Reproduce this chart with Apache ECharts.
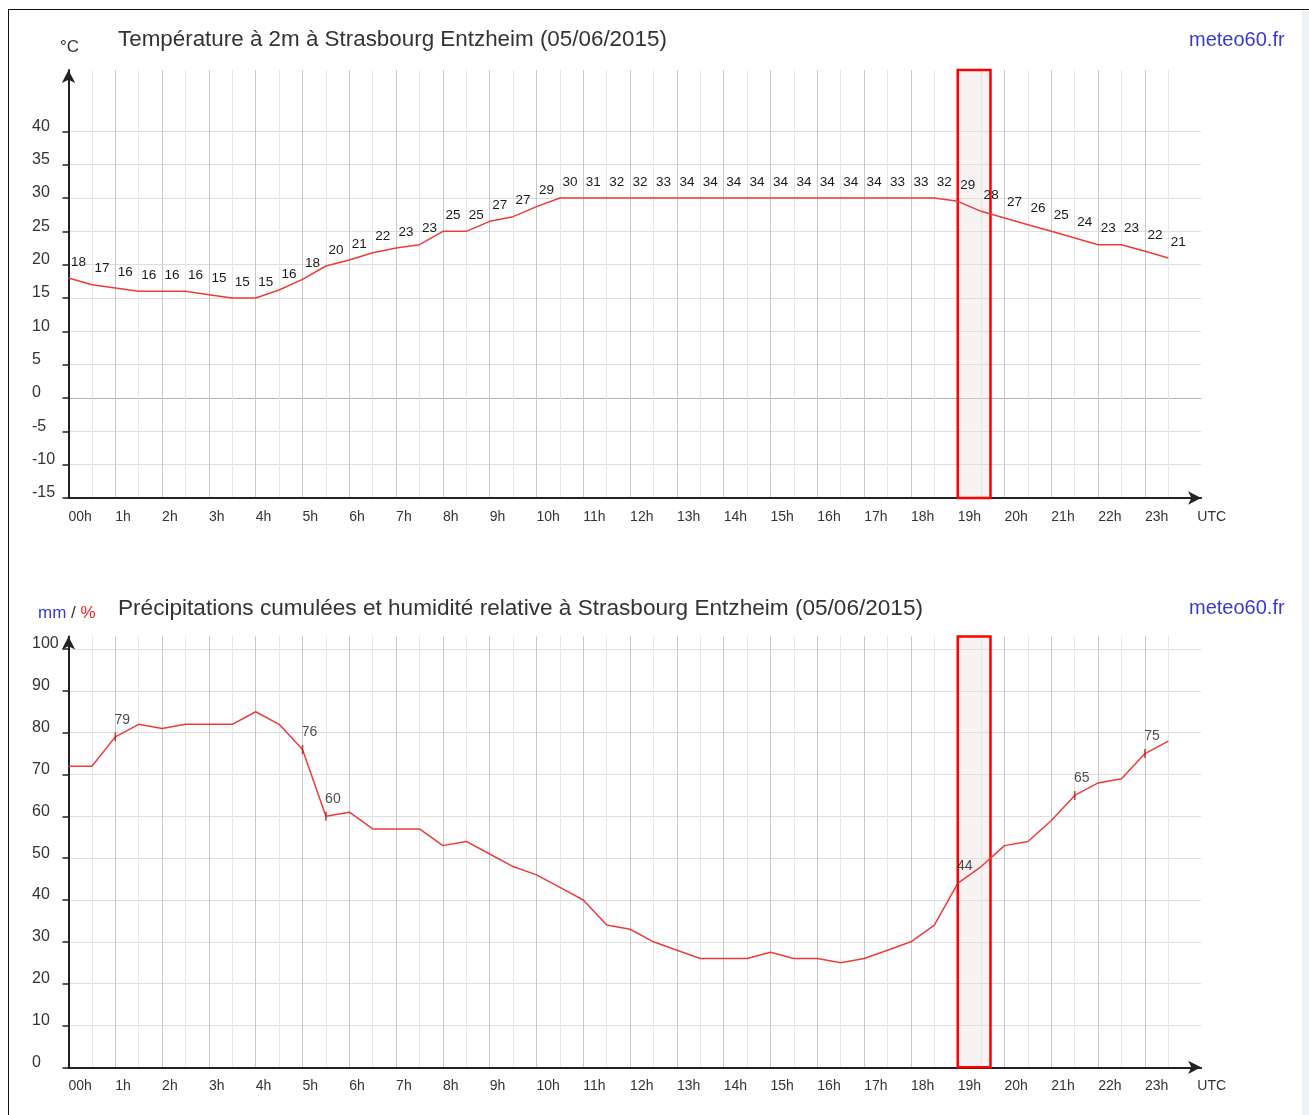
<!DOCTYPE html>
<html>
<head>
<meta charset="utf-8">
<script src="https://cdn.jsdelivr.net/npm/echarts@6/dist/echarts.min.js"></script>
<style>
html,body{margin:0;padding:0;background:#fff;}
#wrap{position:relative;width:1309px;height:1115px;overflow:hidden;}
#chart{position:absolute;left:0;top:0;width:1309px;height:1115px;}
#frameTop{position:absolute;left:8px;top:9px;width:1301px;height:0;border-top:1.5px solid #111;}
#frameLeft{position:absolute;left:7.5px;top:9px;width:0;height:1106px;border-left:1.5px solid #111;}
#band{position:absolute;left:1302px;top:11px;width:7px;height:1104px;background:#edf2f9;}
</style>
</head>
<body>
<div id="wrap">
  <div id="chart"></div>
  <div id="band"></div>
  <div id="frameTop"></div>
  <div id="frameLeft"></div>
</div>
<script>
// ---- data ----
const hours = [0,0.5,1,1.5,2,2.5,3,3.5,4,4.5,5,5.5,6,6.5,7,7.5,8,8.5,9,9.5,10,10.5,11,11.5,
               12,12.5,13,13.5,14,14.5,15,15.5,16,16.5,17,17.5,18,18.5,19,19.5,20,20.5,21,21.5,22,22.5,23,23.5];
// temperature curve as drawn (the drawn curve is capped at 30)
const tempLine = [18,17,16.5,16,16,16,15.5,15,15,16.2,17.8,19.8,20.7,21.8,22.5,23,25,25,26.5,27.2,28.7,
                  30,30,30,30,30,30,30,30,30,30,30,30,30,30,30,30,30,
                  29.5,28,27,26,25,24,23,23,22,21];
// temperature values printed above the curve
const tempLabels = [18,17,16,16,16,16,15,15,15,16,18,20,21,22,23,23,25,25,27,27,29,
                    30,31,32,32,33,34,34,34,34,34,34,34,34,34,33,33,32,
                    29,28,27,26,25,24,23,23,22,21];
// relative humidity (%)
const humidity = [72,72,79,82,81,82,82,82,85,82,76,60,61,57,57,57,53,54,51,48,
                  46,43,40,34,33,30,28,26,26,26,27.5,26,26,25,26,28,30,34,44,48,
                  53,54,59,65,68,69,75,78];
const humLabelIdx = [2,10,11,38,43,46];
const hourTicks = [0,1,2,3,4,5,6,7,8,9,10,11,12,13,14,15,16,17,18,19,20,21,22,23];
const tempTicks = [-15,-10,-5,0,5,10,15,20,25,30,35,40];
const humTicks = [0,10,20,30,40,50,60,70,80,90,100];
const highlight = [19, 19.7];

// ---- chart ----
const FONT = "'Liberation Sans', Arial, Helvetica, sans-serif";
const halfTicks = hours.filter(h => h > 0);
const X_MAX = 24.2;
const UTC_POS = 24.12;

function makeX(gi) {
  return {
    type: 'value', gridIndex: gi, min: 0, max: X_MAX,
    axisLine: { show: true, onZero: false, lineStyle: { color: '#222', width: 2 },
                symbol: ['none', 'arrow'], symbolSize: [10, 13] },
    axisTick: { show: false, customValues: halfTicks },
    splitLine: { show: true, lineStyle: { color: ['#e6e6e6', '#c8c8c8'], width: 1 } },
    axisLabel: {
      customValues: hourTicks.concat([UTC_POS]),
      formatter: v => (v > 24 ? 'UTC' : (v === 0 ? '00h' : v + 'h')),
      align: 'left', margin: 12, fontSize: 14, color: '#333', fontFamily: FONT
    }
  };
}
function makeY(gi, min, max, ticks, colorFn) {
  return {
    type: 'value', gridIndex: gi, min: min, max: max,
    axisLine: { show: true, onZero: false, lineStyle: { color: '#222', width: 2 },
                symbol: ['none', 'arrow'], symbolSize: [10, 13] },
    axisTick: { show: true, customValues: ticks, length: 6, lineStyle: { color: '#222', width: 1.5 } },
    splitLine: { show: true, lineStyle: { color: ticks.map(colorFn), width: 1 } },
    axisLabel: {
      customValues: ticks, align: 'left', margin: 36.5,
      verticalAlign: 'bottom', lineHeight: 10,
      fontSize: 16, color: '#333', fontFamily: FONT
    }
  };
}

const titleStyle = { fontSize: 22.4, fontWeight: 'normal', color: '#333', fontFamily: FONT };
const siteStyle = { fontSize: 20, fontWeight: 'normal', color: '#3a3acf', fontFamily: FONT };

const areaStyle = { color: 'rgba(236,222,222,0.35)', borderColor: '#ff0000', borderWidth: 2.5 };

const option = {
  animation: false,
  backgroundColor: 'transparent',
  title: [
    { text: 'Température à 2m à Strasbourg Entzheim (05/06/2015)', left: 118, top: 29, padding: 0, textStyle: titleStyle },
    { text: '°C', left: 60, top: 39, padding: 0, textStyle: { fontSize: 17, fontWeight: 'normal', color: '#333', fontFamily: FONT } },
    { text: 'meteo60.fr', left: 1189, top: 30, padding: 0, textStyle: siteStyle },
    { text: 'Précipitations cumulées et humidité relative à Strasbourg Entzheim (05/06/2015)', left: 118, top: 597, padding: 0,
      textStyle: Object.assign({}, titleStyle, { fontSize: 22.6 }) },
    { text: '{b|mm} / {r|%}', left: 38, top: 605, padding: 0,
      textStyle: { fontSize: 17, fontWeight: 'normal', color: '#333', fontFamily: FONT,
        rich: { b: { fontSize: 17, fontWeight: 'normal', color: '#3a3acf', fontFamily: FONT },
                r: { fontSize: 17, fontWeight: 'normal', color: '#ee2222', fontFamily: FONT } } } },
    { text: 'meteo60.fr', left: 1189, top: 598, padding: 0, textStyle: siteStyle }
  ],
  grid: [
    { left: 68.5, top: 70, width: 1132.6, height: 428, outerBoundsMode: 'none', containLabel: false },
    { left: 68.5, top: 636.5, width: 1132.6, height: 430.8, outerBoundsMode: 'none', containLabel: false }
  ],
  xAxis: [makeX(0), makeX(1)],
  yAxis: [
    makeY(0, -15, 49.2, tempTicks, v => (v === 0 ? '#b2b2b2' : '#dedede')),
    makeY(1, 0, 103, humTicks, v => '#dedede')
  ],
  series: [
    {
      type: 'line', xAxisIndex: 0, yAxisIndex: 0, silent: true,
      data: hours.map((h, i) => [h, tempLine[i]]),
      symbol: 'circle', symbolSize: 1, showSymbol: true,
      itemStyle: { color: 'rgba(0,0,0,0)' },
      lineStyle: { color: '#f03a3a', width: 1.5 },
      label: { show: true, position: 'inside', offset: [10, -16],
               formatter: p => String(tempLabels[p.dataIndex]),
               fontSize: 13.5, color: '#1a1a1a', fontFamily: FONT },
      markArea: { silent: true, itemStyle: areaStyle,
                  data: [[{ xAxis: highlight[0] }, { xAxis: highlight[1] }]] },
      z: 3
    },
    {
      type: 'line', xAxisIndex: 1, yAxisIndex: 1, silent: true,
      data: hours.map((h, i) => [h, humidity[i]]),
      symbol: 'none',
      lineStyle: { color: '#f03a3a', width: 1.5 },
      markArea: { silent: true, itemStyle: areaStyle,
                  data: [[{ xAxis: highlight[0] }, { xAxis: highlight[1] }]] },
      z: 3
    },
    {
      type: 'scatter', xAxisIndex: 1, yAxisIndex: 1, silent: true,
      data: humLabelIdx.map(i => [hours[i], humidity[i]]),
      symbol: 'rect', symbolSize: [1.6, 9],
      itemStyle: { color: '#b51c1c' },
      label: { show: true, position: 'inside', offset: [7, -17],
               formatter: p => String(p.value[1]),
               fontSize: 14, color: '#1a1a1a', fontFamily: FONT },
      z: 4
    }
  ]
};

const chart = echarts.init(document.getElementById('chart'), null, { renderer: 'canvas' });
chart.setOption(option);
</script>
</body>
</html>
